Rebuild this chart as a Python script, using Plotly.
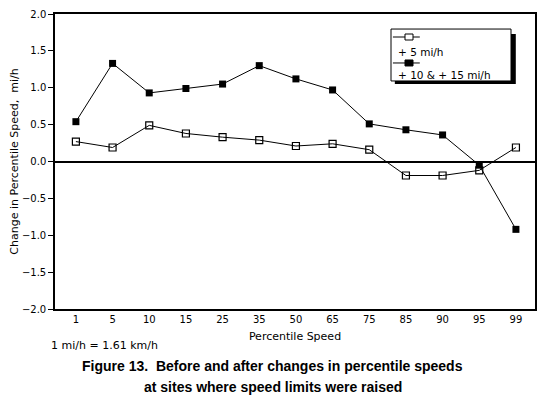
import plotly.graph_objects as go

percentiles = ['1', '5', '10', '15', '25', '35', '50', '65', '75', '85', '90', '95', '99']
plus_5 = [0.27, 0.19, 0.49, 0.38, 0.33, 0.29, 0.21, 0.24, 0.16, -0.19, -0.19, -0.12, 0.19]
plus_10_15 = [0.54, 1.33, 0.93, 0.99, 1.05, 1.30, 1.12, 0.97, 0.51, 0.43, 0.36, -0.05, -0.92]
y_ticks = [2.0, 1.5, 1.0, 0.5, 0.0, -0.5, -1.0, -1.5, -2.0]
series_names = ['+ 5 mi/h', '+ 10 & + 15 mi/h']

font = 'DejaVu Sans'

fig = go.Figure()
fig.add_trace(go.Scatter(
    x=percentiles, y=plus_5, name=series_names[0], mode='lines+markers',
    line=dict(color='black', width=1),
    marker=dict(symbol='square-open', size=7, color='black', line=dict(width=1.2)),
))
fig.add_trace(go.Scatter(
    x=percentiles, y=plus_10_15, name=series_names[1], mode='lines+markers',
    line=dict(color='black', width=1),
    marker=dict(symbol='square', size=7, color='black'),
))

# hand-made legend box in the old style: sample row, then label row
fig.add_shape(type='rect', xref='paper', yref='paper', x0=0.708, x1=0.960, y0=0.763, y1=0.932,
              fillcolor='black', line_width=0)
fig.add_shape(type='rect', xref='paper', yref='paper', x0=0.700, x1=0.950, y0=0.773, y1=0.949,
              fillcolor='white', line=dict(color='black', width=1))
for i, (ys, yt) in enumerate([(0.922, 0.872), (0.834, 0.793)]):
    fig.add_shape(type='line', xref='paper', yref='paper', x0=0.704, x1=0.760, y0=ys, y1=ys,
                  line=dict(color='black', width=1))
    fig.add_shape(type='rect', xref='paper', yref='paper', xsizemode='pixel', ysizemode='pixel',
                  xanchor=0.7375, yanchor=ys, x0=-4, x1=4, y0=-3, y1=3,
                  fillcolor='white' if i == 0 else 'black', line=dict(color='black', width=1))
    fig.add_annotation(text=series_names[i], xref='paper', yref='paper', x=0.7105, y=yt,
                       xanchor='left', yanchor='middle', showarrow=False, font=dict(size=10.5))

fig.update_layout(
    width=538, height=393,
    margin=dict(l=47, r=11, t=6, b=92),
    plot_bgcolor='white', paper_bgcolor='white',
    font=dict(family=font, size=10, color='black'),
    showlegend=False,
    xaxis=dict(type='category', range=[-0.57, 12.52], showgrid=False, zeroline=False,
               showline=True, linecolor='black', linewidth=1.5, mirror=True, automargin=False,
               ticks='', tickfont=dict(size=10),
               title=dict(text='Percentile Speed', font=dict(size=11), standoff=9)),
    yaxis=dict(range=[-2.0, 2.0], tickvals=y_ticks, tickformat='.1f', showgrid=False,
               zeroline=True, zerolinecolor='black', zerolinewidth=1.5, automargin=False,
               showline=True, linecolor='black', linewidth=1.5, mirror=True,
               ticks='outside', ticklen=5, tickcolor='black', tickfont=dict(size=10),
               title=dict(text='Change in Percentile Speed,  mi/h', font=dict(size=11), standoff=6)),
)

fig.add_annotation(text='1 mi/h = 1.61 km/h', xref='paper', yref='paper', x=-0.012, y=-0.125,
                   xanchor='left', yanchor='middle', showarrow=False, font=dict(size=11))
fig.add_annotation(text='<b>Figure 13.  Before and after changes in percentile speeds</b>',
                   xref='paper', yref='paper', x=0.454, y=-0.193, xanchor='center', yanchor='middle',
                   showarrow=False, font=dict(family='Liberation Sans', size=14))
fig.add_annotation(text='<b>at sites where speed limits were raised</b>',
                   xref='paper', yref='paper', x=0.454, y=-0.264, xanchor='center', yanchor='middle',
                   showarrow=False, font=dict(family='Liberation Sans', size=14))

fig.write_html('out.html')
